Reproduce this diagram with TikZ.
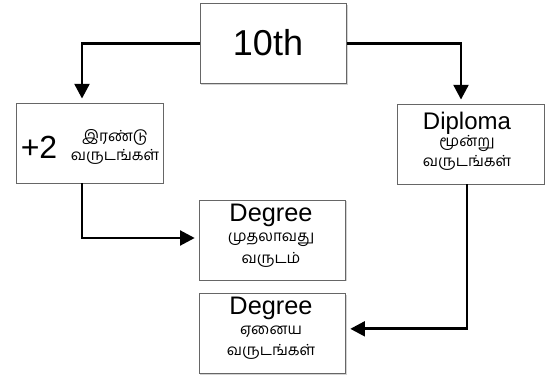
\documentclass[tikz,border=0pt]{standalone}
\usepackage{fontspec}
\setmainfont{Liberation Sans}
\newfontfamily\tamilfont[Script=Tamil]{Hind Madurai}
\usetikzlibrary{arrows.meta,shadows}

\tikzset{every picture/.style={line width=0.75pt}}
\tikzset{
  stagebox/.style={draw=black!60, line width=0.6pt, fill=white, inner sep=0pt,
    minimum width=110pt, minimum height=60pt,
    drop shadow={shadow xshift=0.8pt, shadow yshift=-0.8pt, opacity=0.35}},
  flow/.style={line width=2.2pt, -{Triangle[length=11pt,width=11pt]}, shorten >=3pt},
  tamtxt/.style={inner sep=0pt, font=\tamilfont\fontsize{11.5}{13}\selectfont},
}

\begin{document}
\begin{tikzpicture}[x=0.75pt,y=0.75pt,yscale=-1,xscale=1]
\useasboundingbox (0,0) rectangle (552,377);

%Shape: Rectangles
\node[stagebox] (tenth) at (273.5,43.5) {};
\node[stagebox] (plustwo) at (90,143) {};
\node[stagebox] (diploma) at (471,144) {};
\node[stagebox] (degone) at (272.5,240) {};
\node[stagebox] (degtwo) at (272.5,333.5) {};

%Straight Lines
\draw[flow] (tenth.west) -| ([xshift=-6pt]plustwo.north);
\draw[flow] (tenth.east) -| ([xshift=-7.5pt]diploma.north);
\draw[flow] ([xshift=-6pt]plustwo.south) |- ([yshift=-1.5pt]degone.west);
\draw[flow] ([xshift=-3pt]diploma.south) |- ([yshift=-3.5pt]degtwo.east);

% Text Node
\node[font=\fontsize{27}{31}\selectfont] (tenthlbl) at (268,43) {10th};
% Text Node
\node[font=\fontsize{24}{28}\selectfont] (plustwolbl) at (39,147) {+2};
\node[tamtxt] (irandu) at (115,137) {இரண்டு};
\node[tamtxt] (varudangalA) at (115,157) {வருடங்கள்};
% Text Node
\node[font=\fontsize{18}{21}\selectfont] (diplomalbl) at (467,123) {Diploma};
\node[tamtxt] (moondru) at (467,143) {மூன்று};
\node[tamtxt] (varudangalB) at (467,163) {வருடங்கள்};
% Text Node
\node[font=\fontsize{19}{22}\selectfont] (degonelbl) at (271,215) {Degree};
\node[tamtxt] (muthalavathu) at (271,240) {முதலாவது};
\node[tamtxt] (varudam) at (271,260) {வருடம்};
% Text Node
\node[font=\fontsize{19}{22}\selectfont] (degtwolbl) at (271,308) {Degree};
\node[tamtxt] (enaiya) at (271,332) {ஏனைய};
\node[tamtxt] (varudangalC) at (271,352) {வருடங்கள்};

\end{tikzpicture}
\end{document}
